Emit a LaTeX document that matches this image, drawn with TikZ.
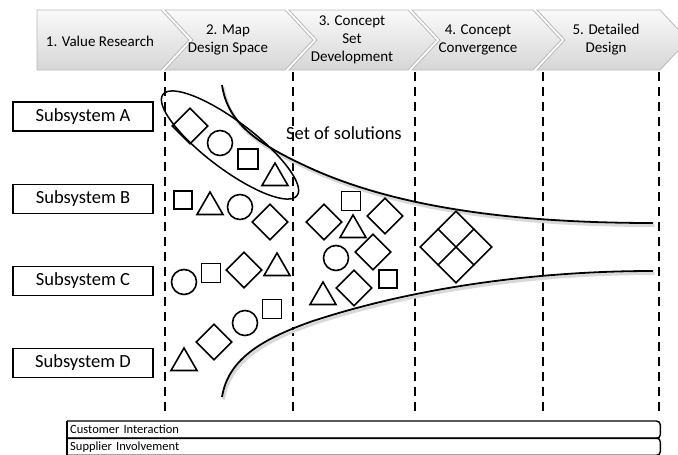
\documentclass[tikz,border=0pt]{standalone}
\usepackage{fontspec}
\setmainfont{Carlito}
\usetikzlibrary{calc,shapes.geometric}
\tikzset{
	phase/.style={top color=gray!4, bottom color=gray!32, draw=gray!55, line width=0.8pt},
	phasetext/.style={font=\fontsize{15}{18}\selectfont, align=center},
	phaseline/.style={line width=1.8pt, dash pattern=on 9pt off 6pt},
	subsys/.style={draw, line width=1.5pt, minimum width=140pt, minimum height=29pt, inner sep=0pt, font=\fontsize{18.5}{20}\selectfont},
	dia/.style={diamond, draw, line width=1.6pt, minimum width=36pt, minimum height=36pt, inner sep=0pt},
	circ/.style={circle, draw, line width=1.6pt, minimum size=25pt, inner sep=0pt},
	sq/.style={rectangle, draw, line width=1.6pt, minimum size=19pt, inner sep=0pt},
	tri/.style={regular polygon, regular polygon sides=3, draw, line width=1.6pt, minimum size=30pt, inner sep=0pt},
	bound/.style={line width=1.8pt},
	bshadow/.style={line width=3pt, gray!30, shift={(1.5,2.5)}},
	bar/.style={minimum height=17pt, text width=587pt, inner xsep=3pt, inner ysep=0pt, align=left, font=\fontsize{12.5}{14}\selectfont}
}
\begin{document}
\begin{tikzpicture}[x=1pt, y=-1pt]
	\useasboundingbox (0,0) rectangle (678,455);
	% phases
	\begin{scope}
		\clip (0,0) rectangle (678,455);
		\draw[phase] (37,10) -- (161,10) -- (189,40) -- (161,70) -- (37,70) -- cycle;
		\foreach \xl/\xr in {165/285, 289/408, 412/533, 537/660}
			\draw[phase] (\xl,10) -- (\xr,10) -- (\xr+28,40) -- (\xr,70) -- (\xl,70) -- (\xl+28,40) -- cycle;
	\end{scope}
	\node[phasetext] (ph1) at (100,41) {1. Value Research};
	\node[phasetext] (ph2) at (228,40) {2. Map\\Design Space};
	\node[phasetext] (ph3) at (352,40) {3. Concept\\Set\\Development};
	\node[phasetext] (ph4) at (478,40) {4. Concept\\Convergence};
	\node[phasetext] (ph5) at (606,40) {5. Detailed\\Design};
	% phase borders
	\foreach \x in {165, 293, 415, 543, 659}
		\draw[phaseline] (\x,72) -- (\x,411);
	% subsystems
	\node[subsys] (subA) at (83,116.5) {Subsystem A};
	\node[subsys] (subB) at (83,199) {Subsystem B};
	\node[subsys] (subC) at (83,281) {Subsystem C};
	\node[subsys] (subD) at (83,363) {Subsystem D};
	% set of solutions
	\draw[bshadow] (222,85) .. controls (228,125) and (260,145) .. (310,168) .. controls (400,209) and (520,223) .. (653,223);
	\draw[bshadow] (222,397) .. controls (228,360) and (260,340) .. (310,322) .. controls (400,292) and (520,271) .. (653,271);
	\draw[bound] (222,85) .. controls (228,125) and (260,145) .. (310,168) .. controls (400,209) and (520,223) .. (653,223);
	\draw[bound] (222,397) .. controls (228,360) and (260,340) .. (310,322) .. controls (400,292) and (520,271) .. (653,271);
	\node[font=\fontsize{18.5}{20}\selectfont] (sol) at (344,133) {Set of solutions};
	% column 2
	\node[dia] (a1) at (190,126) {};
	\node[circ] (a2) at (220,143) {};
	\node[sq, minimum size=20pt] (a3) at (248,159) {};
	\node[tri] (a4) at (275,178) {};
	\draw[line width=1.5pt, rotate around={-37:(230,145)}] (230,145) ellipse (84 and 24);
	\node[sq, minimum size=18pt] (b1) at (183,200) {};
	\node[tri] (b2) at (210,207) {};
	\node[circ] (b3) at (240,207) {};
	\node[dia] (b4) at (270,222) {};
	\node[circ] (c1) at (184,282) {};
	\node[sq] (c2) at (211,273) {};
	\node[dia] (c3) at (244,270) {};
	\node[tri] (c4) at (277,268) {};
	\node[tri] (d1) at (184,363) {};
	\node[dia] (d2) at (214,342) {};
	\node[circ] (d3) at (245,323) {};
	\node[sq] (d4) at (272,309) {};
	% column 3
	\node[sq] (e1) at (351,201) {};
	\node[dia] (e2) at (324,222) {};
	\node[tri] (e3) at (353,230) {};
	\node[dia] (e4) at (385,216) {};
	\node[dia] (e5) at (373,252) {};
	\node[circ] (e6) at (336,258) {};
	\node[sq, minimum size=18pt] (e7) at (388,279) {};
	\node[dia] (e8) at (354,288) {};
	\node[tri] (e9) at (323,297) {};
	% column 4
	\node[dia, minimum width=72pt, minimum height=72pt] (conv) at (456,247) {};
	\draw[line width=1.6pt] ($(conv.north)!0.5!(conv.west)$) -- ($(conv.east)!0.5!(conv.south)$);
	\draw[line width=1.6pt] ($(conv.north)!0.5!(conv.east)$) -- ($(conv.west)!0.5!(conv.south)$);
	% involvement bars
	\node[bar, anchor=north west] (cust) at (67,421) {Customer Interaction};
	\node[bar, anchor=north west] (supp) at (67,438) {Supplier Involvement};
	\foreach \b in {cust, supp} {
		\draw[line width=1.4pt, rounded corners=4pt] (\b.north west) -- (\b.north east) -- (\b.south east) -- (\b.south west);
		\draw[line width=1.4pt] (\b.north west) -- (\b.south west);
	}
\end{tikzpicture}
\end{document}
